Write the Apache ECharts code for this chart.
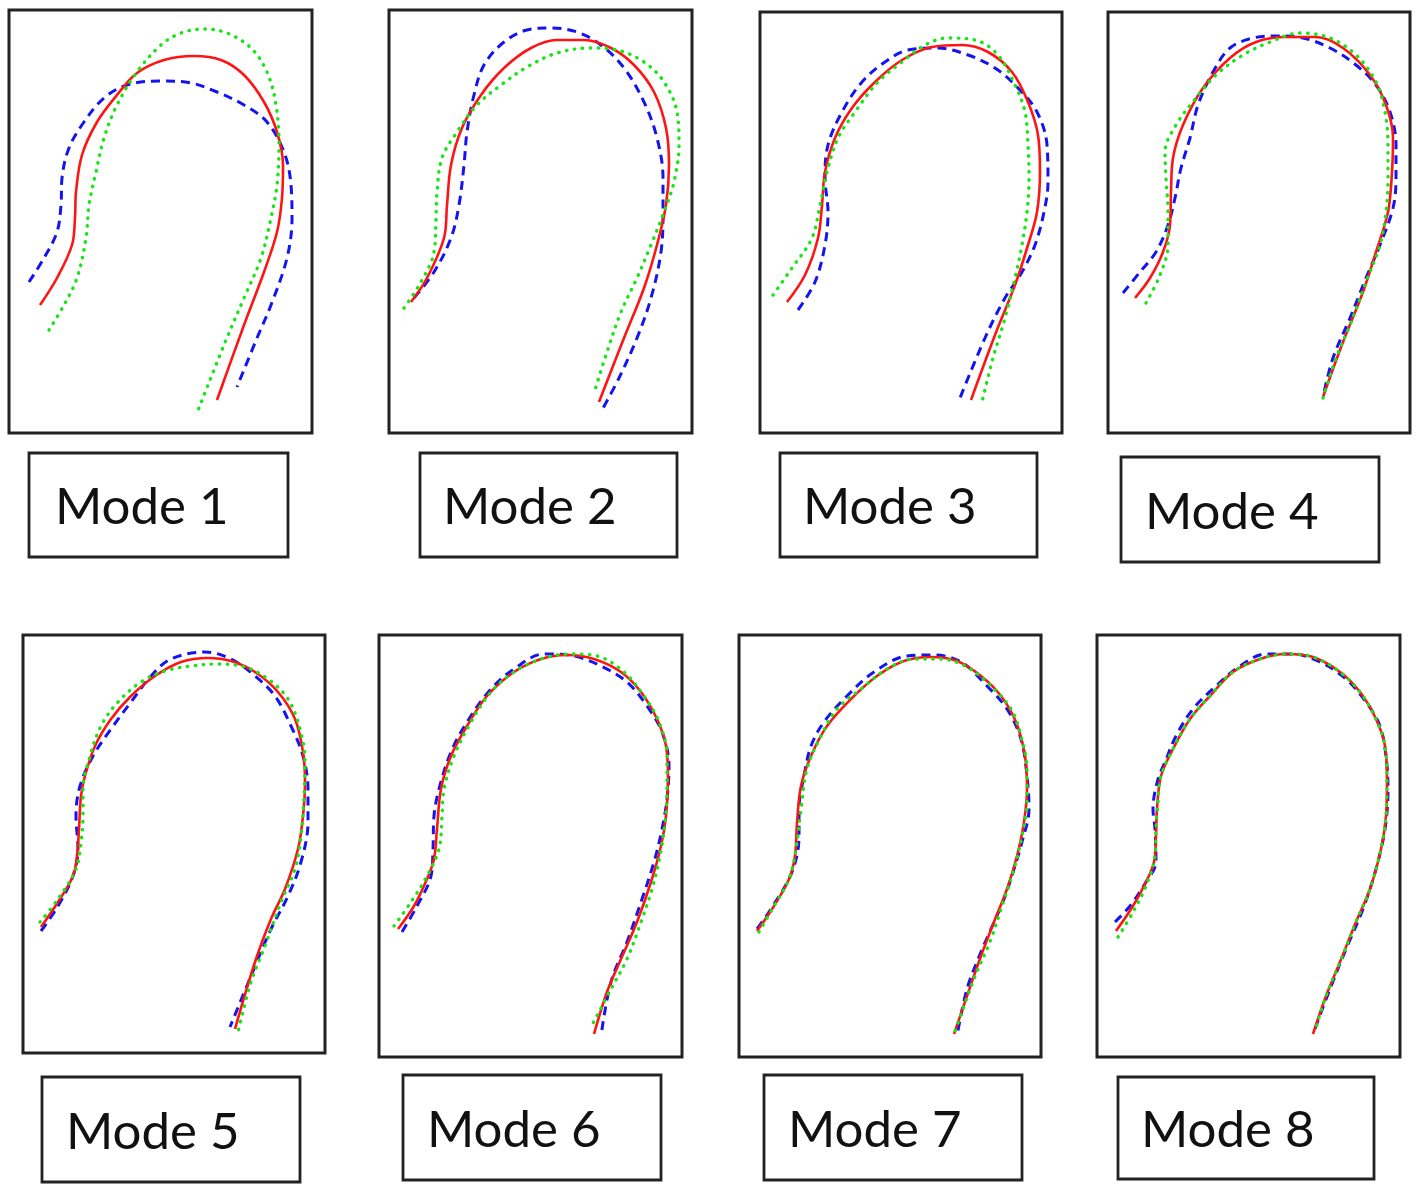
<!DOCTYPE html>
<html lang="en">
<head>
    <meta charset="UTF-8">
    <title>Mode shapes</title>
    <style>
        html, body { margin: 0; padding: 0; background: #fff; }
        #modeChart { width: 1416px; height: 1186px; }
    </style>
</head>
<body>
    <div id="modeChart"></div>
</body>
<script src="https://cdn.jsdelivr.net/npm/echarts@6.0.0/dist/echarts.min.js"></script>
<script>
    // curve points, x right / y down from the panel's top-left corner
    const modeNames = ['Mode 1', 'Mode 2', 'Mode 3', 'Mode 4', 'Mode 5', 'Mode 6', 'Mode 7', 'Mode 8'];

    const mode1Red = [[31,295],[48,268],[63,235],[66,208],[67,182],[73,145],[88,112],[108,85],[128,63],[155,50],[185,46],[212,50],[235,65],[255,92],[268,122],[274,155],[273,188],[268,222],[255,262],[235,315],[208,390]];
    const mode1Blue = [[20,272],[35,248],[48,222],[52,195],[53,168],[60,138],[75,112],[95,88],[118,75],[152,71],[182,73],[208,82],[235,95],[258,112],[275,142],[282,175],[283,208],[278,248],[262,295],[248,328],[228,377]];
    const mode1Green = [[40,320],[55,295],[68,268],[77,228],[80,195],[87,162],[95,128],[108,95],[128,62],[152,35],[172,23],[195,19],[218,23],[242,38],[258,62],[267,95],[270,135],[268,175],[262,208],[252,248],[235,288],[215,335],[188,403]];

    const mode2Red = [[22,292],[38,268],[55,228],[58,195],[62,155],[73,118],[92,85],[115,58],[142,38],[168,30],[195,30],[222,38],[245,55],[265,82],[277,118],[280,155],[277,195],[268,235],[255,278],[235,328],[210,392]];
    const mode2Blue = [[25,288],[45,262],[62,228],[70,195],[75,155],[78,122],[85,85],[95,55],[115,32],[138,20],[162,18],[188,22],[212,35],[235,58],[255,92],[268,128],[274,168],[274,202],[272,242],[262,288],[248,328],[230,368],[213,400]];
    const mode2Green = [[15,298],[32,272],[45,242],[47,208],[48,182],[53,148],[68,122],[88,95],[112,75],[138,57],[168,43],[202,38],[228,40],[255,52],[275,72],[288,102],[290,135],[285,172],[275,202],[262,235],[248,268],[232,302],[218,342],[205,383]];

    const mode3Red = [[27,290],[45,263],[58,226],[62,193],[65,160],[75,126],[92,96],[115,70],[142,48],[172,35],[202,33],[228,40],[252,60],[268,90],[278,123],[280,160],[277,200],[268,233],[255,273],[235,323],[211,388]];
    const mode3Blue = [[38,298],[55,270],[65,233],[68,200],[65,166],[68,133],[82,100],[102,70],[125,50],[148,38],[178,36],[208,43],[235,56],[258,76],[277,100],[287,133],[288,170],[284,200],[275,233],[262,260],[245,286],[225,326],[200,386]];
    const mode3Green = [[13,283],[32,256],[52,226],[60,193],[67,160],[78,126],[95,100],[118,70],[142,50],[165,33],[188,26],[215,28],[238,43],[255,73],[265,100],[268,133],[269,166],[267,200],[262,233],[255,266],[245,306],[233,346],[222,390]];

    const mode4Red = [[27,286],[42,266],[55,240],[62,213],[63,180],[65,146],[75,113],[95,76],[122,46],[148,30],[178,25],[208,25],[235,36],[262,63],[278,93],[285,126],[284,160],[280,200],[268,240],[255,280],[235,330],[215,385]];
    const mode4Blue = [[15,281],[32,260],[48,240],[60,213],[67,186],[73,156],[82,126],[90,93],[105,60],[122,36],[145,26],[168,24],[195,26],[222,36],[248,53],[268,73],[282,100],[288,133],[288,166],[285,196],[272,233],[258,266],[242,306],[225,346],[215,385]];
    const mode4Green = [[38,291],[52,263],[60,233],[60,200],[58,166],[57,140],[68,113],[88,86],[108,63],[135,43],[162,30],[192,21],[222,26],[248,43],[268,70],[277,100],[280,133],[280,166],[278,200],[272,233],[258,270],[242,313],[228,346],[215,386]];

    const mode5Red = [[18,292],[35,267],[50,241],[54,221],[56,194],[58,161],[62,141],[72,111],[88,84],[108,61],[132,41],[158,27],[185,23],[208,26],[232,37],[255,57],[272,84],[280,117],[282,147],[280,181],[275,214],[262,254],[248,284],[232,327],[212,394]];
    const mode5Blue = [[18,296],[35,271],[50,241],[55,214],[53,181],[57,151],[70,121],[88,94],[108,67],[128,41],[148,24],[182,17],[208,24],[232,41],[252,61],[268,91],[280,121],[285,154],[285,187],[278,227],[265,261],[248,294],[228,341],[207,392]];
    const mode5Green = [[17,287],[35,264],[53,234],[58,207],[60,181],[60,154],[67,121],[78,91],[95,67],[118,47],[142,36],[168,31],[195,29],[222,32],[245,44],[265,64],[277,94],[282,127],[281,161],[278,201],[272,234],[258,267],[242,311],[228,347],[215,397]];

    const mode6Red = [[19,294],[35,271],[48,244],[55,224],[58,194],[62,154],[72,121],[88,91],[108,61],[135,37],[162,24],[188,20],[215,24],[242,37],[262,57],[278,84],[287,111],[289,144],[287,181],[282,211],[272,247],[258,287],[242,324],[228,357],[215,399]];
    const mode6Blue = [[23,297],[38,271],[52,241],[54,214],[55,181],[60,154],[72,117],[88,87],[112,54],[135,34],[165,19],[195,21],[222,31],[248,47],[268,71],[283,97],[290,131],[288,164],[283,194],[275,227],[262,267],[248,307],[232,347],[222,401]];
    const mode6Green = [[15,291],[32,267],[48,241],[60,214],[63,181],[65,154],[75,121],[92,87],[112,57],[135,37],[165,23],[192,19],[218,21],[245,37],[265,61],[280,87],[288,121],[288,154],[286,187],[281,221],[273,254],[262,287],[248,324],[232,354],[212,392]];

    const mode7Red = [[18,296],[35,271],[50,244],[56,221],[58,188],[62,151],[72,121],[88,91],[112,64],[138,41],[165,26],[192,22],[218,26],[242,41],[262,61],[277,87],[286,121],[288,154],[285,187],[278,221],[268,254],[255,287],[242,321],[228,361],[215,399]];
    const mode7Blue = [[18,294],[32,274],[53,237],[60,201],[60,174],[65,141],[72,111],[85,87],[108,61],[135,37],[168,21],[195,20],[222,27],[248,51],[268,74],[282,104],[288,141],[290,174],[283,207],[275,234],[265,264],[252,294],[242,317],[228,354],[218,401]];
    const mode7Green = [[20,297],[35,271],[50,244],[57,214],[62,174],[68,134],[82,101],[98,74],[122,54],[148,34],[175,24],[202,24],[228,32],[252,51],[272,74],[282,101],[288,134],[288,167],[283,201],[275,234],[263,271],[252,304],[235,344],[215,399]];

    const mode8Red = [[19,296],[36,271],[49,247],[57,227],[59,201],[60,174],[64,141],[76,114],[93,84],[113,61],[136,37],[163,24],[189,19],[216,22],[243,37],[263,57],[279,84],[288,111],[290,147],[289,181],[284,214],[273,254],[259,287],[243,327],[229,361],[216,399]];
    const mode8Blue = [[18,287],[33,271],[49,247],[59,227],[58,194],[56,174],[61,144],[68,127],[79,101],[96,74],[119,51],[143,31],[169,19],[196,19],[223,27],[249,44],[269,67],[283,91],[289,121],[291,154],[288,194],[279,234],[266,274],[249,314],[233,354],[216,399]];
    const mode8Green = [[21,302],[36,277],[49,251],[58,221],[59,194],[61,167],[64,141],[76,114],[93,84],[113,61],[136,37],[163,24],[189,19],[216,22],[243,37],[263,57],[279,84],[288,111],[290,147],[289,181],[284,214],[273,254],[259,287],[243,327],[229,361],[218,396]];

    const redCurves = [mode1Red, mode2Red, mode3Red, mode4Red, mode5Red, mode6Red, mode7Red, mode8Red];
    const blueCurves = [mode1Blue, mode2Blue, mode3Blue, mode4Blue, mode5Blue, mode6Blue, mode7Blue, mode8Blue];
    const greenCurves = [mode1Green, mode2Green, mode3Green, mode4Green, mode5Green, mode6Green, mode7Green, mode8Green];

    // layout of the plot frames and the caption boxes (page pixels)
    const panelBoxes = [
        { left: 9, top: 10, width: 303, height: 423 },
        { left: 389, top: 10, width: 303, height: 423 },
        { left: 760, top: 12, width: 302, height: 421 },
        { left: 1108, top: 12, width: 302, height: 421 },
        { left: 23, top: 635, width: 302, height: 418 },
        { left: 379, top: 635, width: 303, height: 422 },
        { left: 739, top: 635, width: 302, height: 422 },
        { left: 1097, top: 635, width: 303, height: 422 }
    ];
    const labelBoxes = [
        { x: 29, y: 453, w: 259, h: 104, tx: 55 },
        { x: 420, y: 453, w: 257, h: 104, tx: 443 },
        { x: 780, y: 453, w: 257, h: 104, tx: 803 },
        { x: 1121, y: 457, w: 258, h: 105, tx: 1145 },
        { x: 42, y: 1077, w: 258, h: 105, tx: 66 },
        { x: 403, y: 1075, w: 258, h: 105, tx: 427 },
        { x: 764, y: 1075, w: 258, h: 105, tx: 788 },
        { x: 1118, y: 1077, w: 256, h: 102, tx: 1141 }
    ];

    function hiddenAxis(max, inverse) {
        return {
            type: 'value', min: 0, max: max, inverse: inverse,
            axisLine: { show: false }, axisTick: { show: false },
            axisLabel: { show: false }, splitLine: { show: false }
        };
    }

    function curveSeries(idx, data, color, type, width, cap) {
        return {
            type: 'line', xAxisIndex: idx, yAxisIndex: idx, data: data,
            smooth: 0.35, showSymbol: false, silent: true,
            lineStyle: { color: color, width: width, type: type, cap: cap }
        };
    }

    function getModeOption() {
        let grid = [], xAxis = [], yAxis = [], series = [], graphic = [];
        panelBoxes.forEach(function (p, i) {
            grid.push({
                left: p.left, top: p.top, width: p.width, height: p.height,
                show: true, borderColor: '#222', borderWidth: 3, backgroundColor: '#fff'
            });
            xAxis.push(Object.assign(hiddenAxis(p.width, false), { gridIndex: i }));
            yAxis.push(Object.assign(hiddenAxis(p.height, true), { gridIndex: i }));
            series.push(curveSeries(i, blueCurves[i], '#1414f0', [9, 6], 3, 'butt'));
            series.push(curveSeries(i, redCurves[i], '#ff1414', 'solid', 2.6, 'butt'));
            series.push(curveSeries(i, greenCurves[i], '#16e616', [0.5, 7.5], 3.4, 'round'));
        });
        labelBoxes.forEach(function (b, i) {
            graphic.push({
                type: 'rect', shape: { x: b.x, y: b.y, width: b.w, height: b.h },
                style: { fill: '#fff', stroke: '#222', lineWidth: 2.8 }
            });
            graphic.push({
                type: 'text', x: b.tx, y: b.y + b.h / 2 + 3,
                style: {
                    text: modeNames[i], fill: '#111', fontSize: 51,
                    fontFamily: '"Liberation Sans Narrow", Lato, sans-serif',
                    verticalAlign: 'middle', align: 'left'
                }
            });
        });
        return {
            animation: false, backgroundColor: '#fff',
            grid: grid, xAxis: xAxis, yAxis: yAxis, series: series, graphic: graphic
        };
    }

    function initModeChart() {
        let myChart = echarts.init(document.getElementById('modeChart'));
        myChart.setOption(getModeOption());
        window.onresize = function () {
            myChart.resize();
        };
    }

    initModeChart();
</script>
</html>
